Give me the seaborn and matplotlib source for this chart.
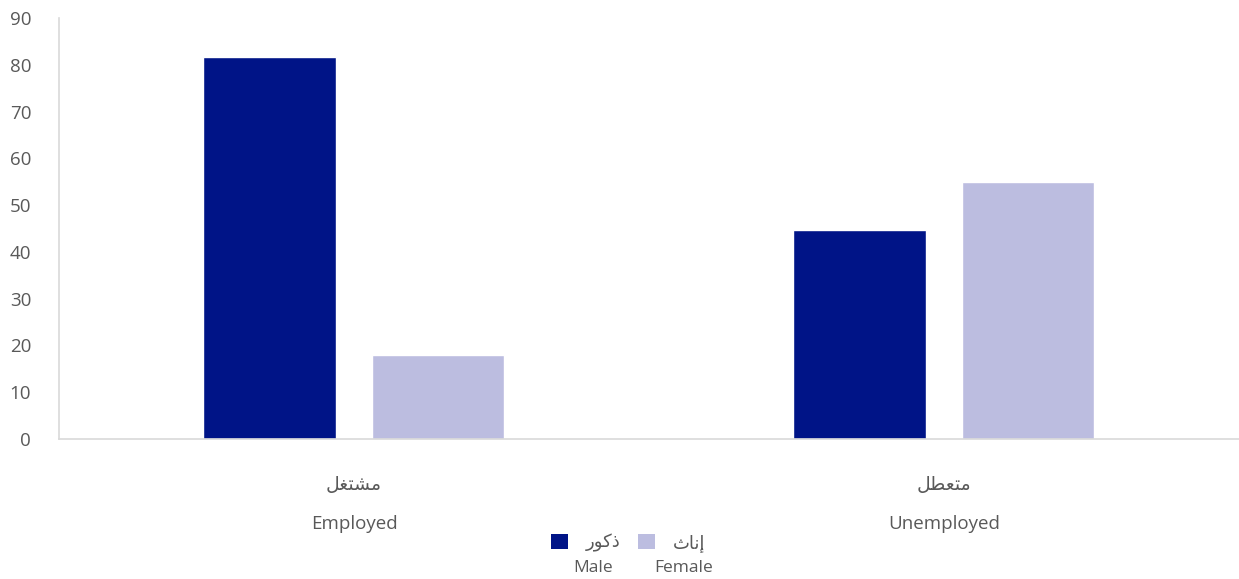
import seaborn as sns
import matplotlib.pyplot as plt
import pandas as pd
from matplotlib.patches import Patch

# data
status_ar = ['مشتغل', 'متعطل']
status_en = ['Employed', 'Unemployed']
sex_ar = ['ذكور', 'إناث']
sex_en = ['Male', 'Female']
male_values = [81.7, 44.6]
female_values = [18.0, 55.0]
colors = ['#001487', '#bcbde0']

# matplotlib has no Arabic shaping, so pick presentation forms and reverse
forms = {
    'ا': ('\ufe8d', '\ufe8e', None, None),
    'إ': ('\ufe87', '\ufe88', None, None),
    'ت': ('\ufe95', '\ufe96', '\ufe97', '\ufe98'),
    'ث': ('\ufe99', '\ufe9a', '\ufe9b', '\ufe9c'),
    'ذ': ('\ufeab', '\ufeac', None, None),
    'ر': ('\ufead', '\ufeae', None, None),
    'ش': ('\ufeb5', '\ufeb6', '\ufeb7', '\ufeb8'),
    'ط': ('\ufec1', '\ufec2', '\ufec3', '\ufec4'),
    'ع': ('\ufec9', '\ufeca', '\ufecb', '\ufecc'),
    'غ': ('\ufecd', '\ufece', '\ufecf', '\ufed0'),
    'ك': ('\ufed9', '\ufeda', '\ufedb', '\ufedc'),
    'ل': ('\ufedd', '\ufede', '\ufedf', '\ufee0'),
    'م': ('\ufee1', '\ufee2', '\ufee3', '\ufee4'),
    'ن': ('\ufee5', '\ufee6', '\ufee7', '\ufee8'),
    'و': ('\ufeed', '\ufeee', None, None),
}


def shape(word):
    out = []
    for i, ch in enumerate(word):
        f = forms.get(ch)
        if f is None:
            out.append(ch)
            continue
        prev = forms.get(word[i - 1]) if i > 0 else None
        nxt = forms.get(word[i + 1]) if i + 1 < len(word) else None
        join_prev = prev is not None and prev[2] is not None
        join_next = nxt is not None and f[2] is not None
        if join_prev and join_next:
            out.append(f[3])
        elif join_prev:
            out.append(f[1])
        elif join_next:
            out.append(f[2])
        else:
            out.append(f[0])
    return ''.join(reversed(out))


df = pd.DataFrame({
    'status': status_en * 2,
    'sex': [sex_en[0]] * 2 + [sex_en[1]] * 2,
    'value': male_values + female_values,
})

sns.set_style('white')
plt.rcParams['font.family'] = ['Open Sans', 'DejaVu Sans']

fig = plt.figure(figsize=(12.39, 5.79), dpi=100)
ax = fig.add_axes([0.0476, 0.2418, 0.9524, 0.727])

sns.barplot(data=df, x='status', y='value', hue='sex', palette=colors,
            width=0.57, gap=0.21, ax=ax, legend=False, saturation=1)

ax.set_ylim(0, 90)
ax.set_xlim(-0.5, 1.5)
ax.set_yticks(range(0, 91, 10))
ax.set_xlabel('')
ax.set_ylabel('')
ax.set_xticks([0, 1])
ax.set_xticklabels([shape(a) + '\n' + e for a, e in zip(status_ar, status_en)],
                   linespacing=2.45)
ax.tick_params(axis='both', length=0, labelsize=13.5, labelcolor='#595959')
ax.tick_params(axis='x', pad=27)
ax.tick_params(axis='y', pad=20)

sns.despine(ax=ax, top=True, right=True)
for side in ['left', 'bottom']:
    ax.spines[side].set_color('#d9d9d9')
    ax.spines[side].set_linewidth(1.2)

# legend: square then Arabic label, English label underneath
handles = [Patch(facecolor=c, edgecolor='none') for c in colors]
leg = fig.legend(handles, [shape(s) for s in sex_ar], ncol=2, frameon=False,
                 loc='center', bbox_to_anchor=(0.507, 0.062),
                 fontsize=13, handlelength=0.9, handleheight=0.9,
                 handletextpad=1.0, columnspacing=1.0)
for t in leg.get_texts():
    t.set_color('#595959')
fig.text(0.479, 0.012, sex_en[0], fontsize=12.5, color='#595959', ha='center')
fig.text(0.552, 0.012, sex_en[1], fontsize=12.5, color='#595959', ha='center')

fig.savefig('out.png', dpi=100)
